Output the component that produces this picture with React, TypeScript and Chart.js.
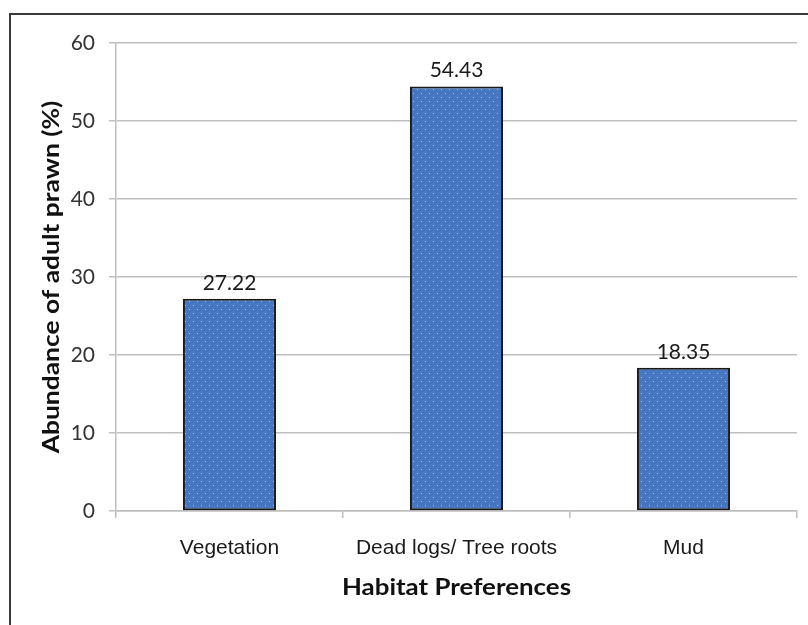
import React, { useEffect, useRef } from "react";
import { Chart, registerables } from "chart.js";

Chart.register(...registerables);

const categories = ["Vegetation", "Dead logs/ Tree roots", "Mud"];
const abundance = [27.22, 54.43, 18.35];
const yMin = 0;
const yMax = 60;
const yStep = 10;
const xTitle = "Habitat Preferences";
const yTitle = "Abundance of adult prawn (%)";

const TITLE_STRETCH = 1.2;

function makePattern(): CanvasPattern | string {
  const c = document.createElement("canvas");
  c.width = 8;
  c.height = 8;
  const g = c.getContext("2d");
  if (!g) return "#4677c0";
  g.fillStyle = "#4677c0";
  g.fillRect(0, 0, 8, 8);
  g.fillStyle = "#a3bde8";
  g.fillRect(1, 1, 1, 1);
  g.fillRect(5, 5, 1, 1);
  const p = g.createPattern(c, "repeat");
  return p || "#4677c0";
}

const framePlugin = {
  id: "frame",
  beforeDraw(chart: any) {
    const { ctx, width, height } = chart;
    ctx.save();
    ctx.fillStyle = "#ffffff";
    ctx.fillRect(0, 0, width, height);
    ctx.fillStyle = "#3a3a3a";
    ctx.fillRect(9, 13, width - 9, 2);
    ctx.fillRect(9, 13, 2, height - 13);
    ctx.restore();
  },
};

const axisTitlePlugin = {
  id: "axisTitles",
  afterDraw(chart: any) {
    const { ctx, chartArea } = chart;
    ctx.save();
    ctx.fillStyle = "#111111";
    ctx.font = "bold 22px Lato";
    ctx.textAlign = "center";
    ctx.textBaseline = "middle";
    // y title
    ctx.save();
    ctx.translate(52, (chartArea.top + chartArea.bottom) / 2);
    ctx.rotate(-Math.PI / 2);
    ctx.scale(TITLE_STRETCH, 1);
    ctx.fillText(yTitle, 0, 0);
    ctx.restore();
    // x title
    ctx.save();
    ctx.translate((chartArea.left + chartArea.right) / 2, 588);
    ctx.scale(TITLE_STRETCH * 0.98, 1);
    ctx.fillText(xTitle, 0, 0);
    ctx.restore();
    ctx.restore();
  },
};

const valueLabelPlugin = {
  id: "valueLabels",
  afterDatasetsDraw(chart: any) {
    const { ctx } = chart;
    const meta = chart.getDatasetMeta(0);
    const data = chart.data.datasets[0].data as number[];
    ctx.save();
    ctx.font = "21px Lato";
    ctx.fillStyle = "#1a1a1a";
    ctx.textAlign = "center";
    ctx.textBaseline = "alphabetic";
    meta.data.forEach((bar: any, i: number) => {
      ctx.fillText(data[i].toFixed(2), bar.x, bar.y - 9);
    });
    ctx.restore();
  },
};

export default function App() {
  const ref = useRef<HTMLCanvasElement>(null);

  useEffect(() => {
    if (!ref.current) return;
    const chart = new Chart(ref.current, {
      type: "bar",
      data: {
        labels: categories,
        datasets: [
          {
            data: abundance,
            backgroundColor: makePattern() as any,
            borderColor: "#1a1a1a",
            borderWidth: 2,
            borderSkipped: false,
            categoryPercentage: 1,
            barPercentage: 0.41,
          },
        ],
      },
      options: {
        responsive: false,
        animation: false,
        events: [],
        layout: { padding: { left: 30, right: 11, top: 43, bottom: 15 } },
        plugins: {
          legend: { display: false },
          tooltip: { enabled: false },
          title: { display: false },
        },
        scales: {
          x: {
            offset: true,
            grid: {
              offset: true,
              drawOnChartArea: false,
              drawTicks: true,
              tickLength: 7,
              color: "#bfbfbf",
              lineWidth: 1.5,
            },
            border: { display: true, color: "#bfbfbf", width: 1.5 },
            ticks: {
              padding: 18,
              color: "#1a1a1a",
              font: { family: "'Liberation Sans', Arial, sans-serif", size: 21 },
              maxRotation: 0,
            },
            afterFit(scale: any) {
              scale.height = 99;
            },
          },
          y: {
            min: yMin,
            max: yMax,
            ticks: {
              stepSize: yStep,
              padding: 14,
              color: "#333333",
              font: { family: "Lato", size: 21 },
            },
            grid: {
              color: "#bfbfbf",
              lineWidth: 1.5,
              drawTicks: true,
              tickLength: 7,
            },
            border: { display: true, color: "#bfbfbf", width: 1.5 },
            afterFit(scale: any) {
              scale.width = 86;
            },
          },
        },
      },
      plugins: [framePlugin, valueLabelPlugin, axisTitlePlugin],
    });
    return () => chart.destroy();
  }, []);

  return (
    <div style={{ position: "fixed", left: 0, top: 0, width: 808, height: 625 }}>
      <canvas ref={ref} width={808} height={625} style={{ display: "block" }} />
    </div>
  );
}
